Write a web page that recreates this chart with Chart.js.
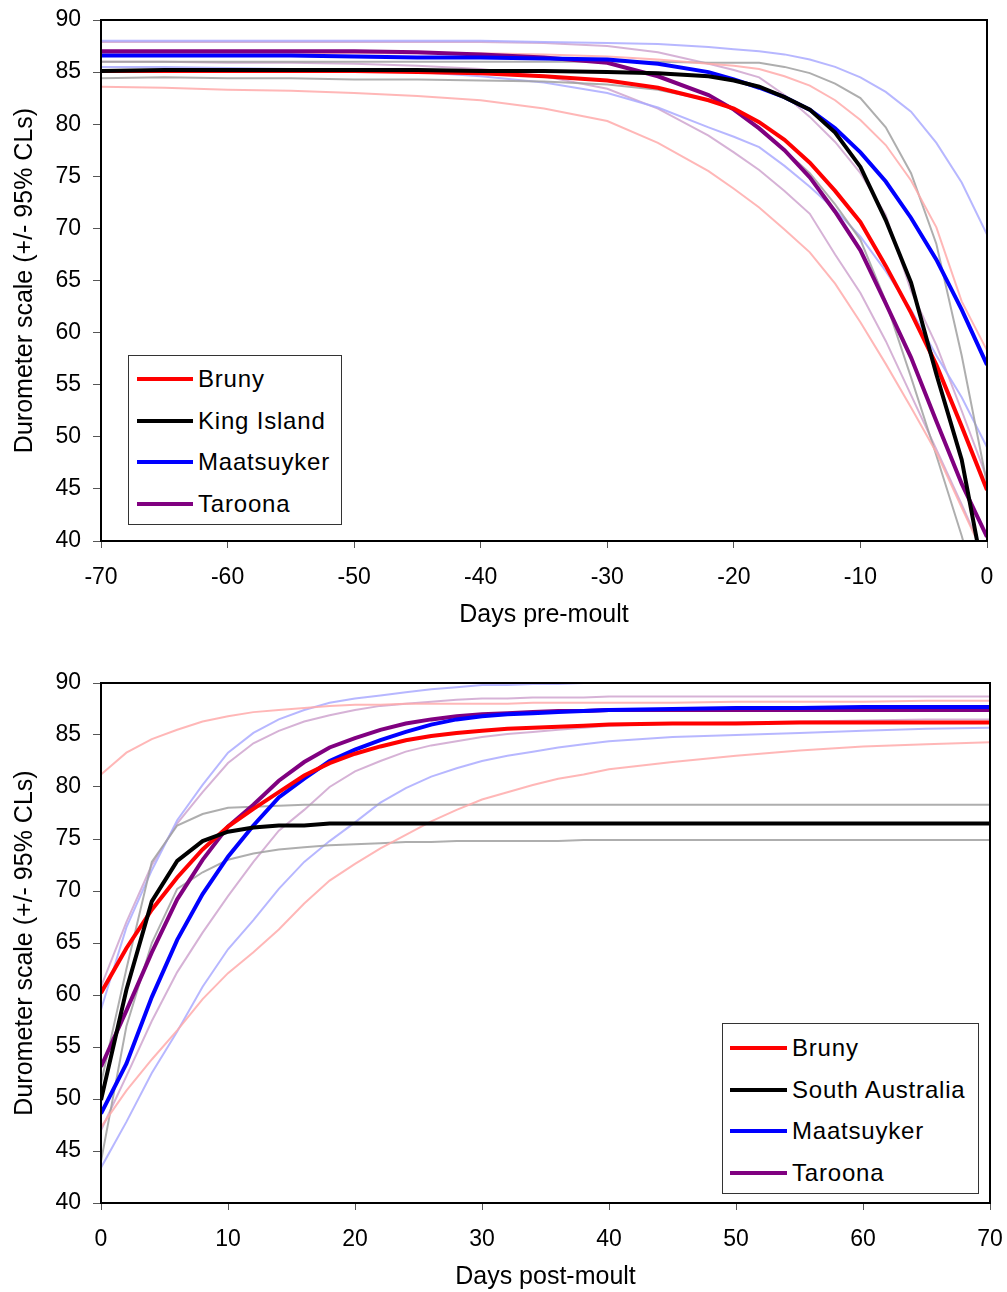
<!DOCTYPE html>
<html lang="en">
<head>
  <meta charset="UTF-8">
  <title>Durometer scale pre- and post-moult</title>
  <script src="https://cdn.jsdelivr.net/npm/chart.js"></script>
  <style>
    body { margin: 0; background: #fff; font-family: "Liberation Sans", Arial, sans-serif; }
    .wrap { position: relative; width: 1007px; height: 1292px; }
    .panel { position: absolute; left: 0; width: 1007px; }
    #preBox { top: 0; height: 630px; }
    #postBox { top: 663px; height: 629px; }
    .legend { position: absolute; border: 1px solid #333; background: #fff; font-size: 24px; letter-spacing: 0.8px; color: #000; box-sizing: border-box; }
    .legend .row { display: flex; align-items: center; height: 41.7px; white-space: nowrap; }
    .legend .swatch { display: inline-block; height: 4px; }
  </style>
</head>
<body>
<div class="wrap">
  <div class="panel" id="preBox">
    <canvas id="preChart" width="1007" height="630"></canvas>
  </div>
  <div class="panel" id="postBox">
    <canvas id="postChart" width="1007" height="629"></canvas>
  </div>
  <div class="legend" id="preLegend" style="left:128px; top:355px; width:214px; height:170px; padding-top:2px;"></div>
  <div class="legend" id="postLegend" style="left:722px; top:1023px; width:257px; height:171px; padding-top:3px;"></div>
</div>

<script>
  // Days pre-moult (top panel)
  const preDays = [-70, -65, -60, -55, -50, -45, -40, -35, -30, -26, -22, -20, -18, -16, -14, -12, -10, -8, -6, -4, -2, 0];

  const preBruny    = [85.1, 85.1, 85.1, 85.1, 85.1, 85.0, 84.9, 84.6, 84.2, 83.5, 82.3, 81.5, 80.2, 78.5, 76.3, 73.6, 70.6, 66.4, 61.9, 56.9, 51.0, 44.9];
  const preKing     = [85.1, 85.2, 85.2, 85.2, 85.2, 85.2, 85.1, 85.1, 85.0, 84.9, 84.6, 84.2, 83.6, 82.6, 81.4, 79.2, 75.9, 70.8, 64.8, 56.0, 47.8, 35.0];
  const preMaat     = [86.6, 86.6, 86.6, 86.6, 86.5, 86.4, 86.4, 86.3, 86.2, 85.8, 85.0, 84.3, 83.5, 82.6, 81.4, 79.6, 77.3, 74.5, 71.0, 67.0, 62.2, 56.9];
  const preTaroona  = [87.0, 87.0, 87.0, 87.0, 87.0, 86.9, 86.7, 86.4, 85.9, 84.6, 82.8, 81.4, 79.6, 77.5, 74.9, 71.6, 67.9, 62.8, 57.6, 51.5, 45.5, 40.4];

  // 95% confidence limits, pre-moult
  const preBrunyHi   = [86.8, 86.8, 86.8, 86.8, 86.8, 86.8, 86.8, 86.7, 86.5, 86.2, 85.8, 85.6, 85.3, 84.6, 83.7, 82.3, 80.4, 78.0, 74.6, 70.1, 63.0, 58.3];
  const preBrunyLo   = [83.6, 83.5, 83.3, 83.2, 83.0, 82.7, 82.3, 81.5, 80.3, 78.2, 75.5, 73.8, 72.0, 69.9, 67.7, 64.7, 61.0, 57.0, 52.8, 48.5, 43.2, 38.0];
  const preKingHi    = [86.0, 86.0, 86.0, 86.0, 86.0, 86.0, 86.0, 86.0, 86.0, 86.0, 85.9, 85.9, 85.9, 85.5, 84.9, 83.9, 82.5, 79.7, 75.3, 68.5, 57.8, 45.5];
  const preKingLo    = [84.4, 84.5, 84.4, 84.4, 84.3, 84.3, 84.2, 84.1, 83.8, 83.3, 82.3, 81.5, 79.5, 77.5, 75.3, 72.3, 68.9, 63.0, 55.7, 48.2, 40.5, 32.0];
  const preMaatHi    = [88.0, 88.0, 88.0, 88.0, 88.0, 88.0, 88.0, 87.9, 87.8, 87.7, 87.4, 87.2, 87.0, 86.7, 86.2, 85.5, 84.5, 83.1, 81.2, 78.2, 74.4, 69.4];
  const preMaatLo    = [85.5, 85.5, 85.4, 85.3, 85.2, 85.0, 84.6, 84.0, 83.0, 81.6, 79.7, 78.8, 77.8, 76.0, 74.0, 71.8, 69.2, 65.9, 62.2, 57.8, 53.8, 49.0];
  const preTaroonaHi = [87.9, 87.9, 87.9, 87.9, 87.9, 87.9, 87.9, 87.8, 87.5, 86.9, 85.8, 85.2, 84.5, 82.8, 80.7, 78.3, 75.3, 71.3, 64.0, 58.8, 52.5, 46.0];
  const preTaroonaLo = [86.0, 86.0, 85.9, 85.9, 85.8, 85.6, 85.3, 84.6, 83.4, 81.5, 78.9, 77.3, 75.6, 73.6, 71.4, 67.5, 63.8, 59.2, 54.0, 48.8, 43.5, 38.0];

  // Days post-moult (bottom panel)
  const postDays = [0, 2, 4, 6, 8, 10, 12, 14, 16, 18, 20, 22, 24, 26, 28, 30, 32, 34, 36, 38, 40, 45, 50, 55, 60, 65, 70];

  const postBruny   = [60.2, 64.5, 68.2, 71.3, 74.0, 76.2, 77.9, 79.5, 81.1, 82.3, 83.2, 83.9, 84.5, 84.9, 85.2, 85.4, 85.6, 85.7, 85.8, 85.9, 86.0, 86.1, 86.1, 86.2, 86.2, 86.2, 86.2];
  const postSA      = [49.9, 60.5, 69.0, 72.9, 74.8, 75.7, 76.1, 76.3, 76.3, 76.5, 76.5, 76.5, 76.5, 76.5, 76.5, 76.5, 76.5, 76.5, 76.5, 76.5, 76.5, 76.5, 76.5, 76.5, 76.5, 76.5, 76.5];
  const postMaat    = [48.6, 53.4, 59.8, 65.3, 69.7, 73.3, 76.3, 79.0, 80.8, 82.5, 83.6, 84.5, 85.3, 86.0, 86.5, 86.8, 87.0, 87.1, 87.2, 87.3, 87.4, 87.5, 87.6, 87.6, 87.7, 87.7, 87.7];
  const postTaroona = [53.1, 58.5, 64.1, 69.2, 73.0, 76.2, 78.3, 80.6, 82.4, 83.8, 84.7, 85.5, 86.1, 86.5, 86.8, 87.0, 87.1, 87.2, 87.3, 87.3, 87.4, 87.4, 87.4, 87.4, 87.4, 87.4, 87.4];

  // 95% confidence limits, post-moult
  const postBrunyHi   = [81.2, 83.3, 84.6, 85.5, 86.3, 86.8, 87.2, 87.4, 87.6, 87.8, 87.9, 87.9, 88.0, 88.0, 88.0, 88.0, 88.0, 88.1, 88.1, 88.1, 88.1, 88.1, 88.2, 88.2, 88.2, 88.3, 88.3];
  const postBrunyLo   = [47.3, 50.8, 53.8, 56.6, 59.6, 62.1, 64.1, 66.3, 68.8, 71.0, 72.6, 74.1, 75.4, 76.7, 77.8, 78.8, 79.5, 80.2, 80.8, 81.2, 81.7, 82.4, 83.0, 83.5, 83.9, 84.1, 84.3];
  const postSAHi      = [51.5, 62.5, 72.8, 76.3, 77.4, 78.0, 78.1, 78.2, 78.3, 78.3, 78.3, 78.3, 78.3, 78.3, 78.3, 78.3, 78.3, 78.3, 78.3, 78.3, 78.3, 78.3, 78.3, 78.3, 78.3, 78.3, 78.3];
  const postSALo      = [44.0, 57.0, 65.0, 70.2, 71.8, 73.0, 73.6, 74.0, 74.2, 74.4, 74.5, 74.6, 74.7, 74.7, 74.8, 74.8, 74.8, 74.8, 74.8, 74.9, 74.9, 74.9, 74.9, 74.9, 74.9, 74.9, 74.9];
  const postMaatHi    = [58.6, 66.5, 72.0, 76.8, 80.2, 83.3, 85.2, 86.5, 87.4, 88.1, 88.5, 88.8, 89.1, 89.4, 89.6, 89.8, 89.8, 89.9, 89.9, 90.0, 90.0, 90.0, 90.0, 90.0, 90.0, 90.0, 90.0];
  const postMaatLo    = [43.4, 47.8, 52.5, 56.5, 60.8, 64.4, 67.2, 70.2, 72.8, 74.8, 76.6, 78.5, 79.9, 81.0, 81.8, 82.5, 83.0, 83.4, 83.8, 84.1, 84.4, 84.8, 85.0, 85.2, 85.4, 85.6, 85.7];
  const postTaroonaHi = [60.8, 67.0, 72.5, 76.5, 79.5, 82.3, 84.2, 85.4, 86.3, 86.9, 87.4, 87.8, 88.0, 88.2, 88.4, 88.5, 88.5, 88.6, 88.6, 88.6, 88.7, 88.7, 88.7, 88.7, 88.7, 88.7, 88.7];
  const postTaroonaLo = [47.0, 52.2, 57.5, 62.2, 66.0, 69.5, 72.8, 75.8, 77.8, 80.0, 81.5, 82.5, 83.4, 84.0, 84.4, 84.8, 85.1, 85.3, 85.5, 85.7, 85.9, 86.1, 86.2, 86.3, 86.4, 86.5, 86.5];

  const FONT = '"Liberation Sans", Arial, sans-serif';
  const RED = '#ff0000', BLACK = '#000000', BLUE = '#0000ff', PURPLE = '#800080';
  const RED_CL = 'rgba(255,170,170,0.85)', BLACK_CL = 'rgba(160,160,160,0.85)';
  const BLUE_CL = 'rgba(170,170,255,0.85)', PURPLE_CL = 'rgba(210,170,210,0.9)';

  function toPoints(days, vals) {
    return days.map((d, i) => ({ x: d, y: vals[i] }));
  }

  function mainLine(label, days, vals, color, legendPos) {
    return { label: label, data: toPoints(days, vals), borderColor: color, backgroundColor: color,
             borderWidth: 4, pointRadius: 0, tension: 0, main: true, legendPos: legendPos };
  }

  function clLine(label, days, vals, color) {
    return { label: label, data: toPoints(days, vals), borderColor: color, backgroundColor: color,
             borderWidth: 2, pointRadius: 0, tension: 0, main: false };
  }

  // draws the box round the plot area
  const framePlugin = {
    id: 'frame',
    afterDatasetsDraw(chart) {
      const { ctx, chartArea: a } = chart;
      ctx.save();
      ctx.strokeStyle = '#000';
      ctx.lineWidth = 2;
      ctx.strokeRect(a.left, a.top, a.right - a.left, a.bottom - a.top);
      ctx.restore();
    }
  };

  function makeChart(canvasId, datasets, xMin, xMax, xTitle, rightPad) {
    return new Chart(document.getElementById(canvasId).getContext('2d'), {
      type: 'line',
      data: { datasets: datasets },
      options: {
        responsive: false,
        animation: false,
        layout: { padding: { top: 20, right: rightPad, left: 0, bottom: 0 } },
        plugins: { legend: { display: false }, tooltip: { enabled: false } },
        scales: {
          x: {
            type: 'linear', min: xMin, max: xMax,
            afterFit: (s) => { s.height = 89; s.paddingLeft = 0; s.paddingRight = 0; },
            ticks: { stepSize: 10, color: '#000', padding: 16, maxRotation: 0, font: { size: 23, family: FONT } },
            grid: { drawOnChartArea: false, tickLength: 7, color: '#555' },
            border: { color: '#000', width: 2 },
            title: { display: true, text: xTitle, color: '#000', font: { size: 25, family: FONT }, padding: { top: 0, bottom: 0 } }
          },
          y: {
            min: 40, max: 90,
            afterFit: (s) => { s.width = 101; s.paddingTop = 0; s.paddingBottom = 0; },
            ticks: { stepSize: 5, color: '#000', padding: 12, font: { size: 23, family: FONT } },
            grid: { drawOnChartArea: false, tickLength: 8, color: '#555' },
            border: { color: '#000', width: 2 },
            title: { display: true, text: 'Durometer scale (+/- 95% CLs)', color: '#000', font: { size: 25, family: FONT }, padding: { top: 10, bottom: 0 } }
          }
        }
      },
      plugins: [framePlugin]
    });
  }

  function buildLegend(divId, chart, padLeft, swatchW, gap) {
    const box = document.getElementById(divId);
    chart.data.datasets.filter(ds => ds.main)
      .sort((a, b) => a.legendPos - b.legendPos)
      .forEach(ds => {
        const row = document.createElement('div');
        row.className = 'row';
        row.innerHTML = `<span class="swatch" style="background:${ds.borderColor}; width:${swatchW}px; margin-left:${padLeft}px; margin-right:${gap}px;"></span><span>${ds.label}</span>`;
        box.appendChild(row);
      });
  }

  // first datasets are drawn on top, so main lines go first
  const preChart = makeChart('preChart', [
    mainLine('King Island', preDays, preKing, BLACK, 1),
    mainLine('Bruny', preDays, preBruny, RED, 0),
    mainLine('Maatsuyker', preDays, preMaat, BLUE, 2),
    mainLine('Taroona', preDays, preTaroona, PURPLE, 3),
    clLine('Bruny upper CL', preDays, preBrunyHi, RED_CL),
    clLine('Bruny lower CL', preDays, preBrunyLo, RED_CL),
    clLine('King Island upper CL', preDays, preKingHi, BLACK_CL),
    clLine('King Island lower CL', preDays, preKingLo, BLACK_CL),
    clLine('Maatsuyker upper CL', preDays, preMaatHi, BLUE_CL),
    clLine('Maatsuyker lower CL', preDays, preMaatLo, BLUE_CL),
    clLine('Taroona upper CL', preDays, preTaroonaHi, PURPLE_CL),
    clLine('Taroona lower CL', preDays, preTaroonaLo, PURPLE_CL)
  ], -70, 0, 'Days pre-moult', 20);

  const postChart = makeChart('postChart', [
    mainLine('South Australia', postDays, postSA, BLACK, 1),
    mainLine('Bruny', postDays, postBruny, RED, 0),
    mainLine('Maatsuyker', postDays, postMaat, BLUE, 2),
    mainLine('Taroona', postDays, postTaroona, PURPLE, 3),
    clLine('Bruny upper CL', postDays, postBrunyHi, RED_CL),
    clLine('Bruny lower CL', postDays, postBrunyLo, RED_CL),
    clLine('South Australia upper CL', postDays, postSAHi, BLACK_CL),
    clLine('South Australia lower CL', postDays, postSALo, BLACK_CL),
    clLine('Maatsuyker upper CL', postDays, postMaatHi, BLUE_CL),
    clLine('Maatsuyker lower CL', postDays, postMaatLo, BLUE_CL),
    clLine('Taroona upper CL', postDays, postTaroonaHi, PURPLE_CL),
    clLine('Taroona lower CL', postDays, postTaroonaLo, PURPLE_CL)
  ], 0, 70, 'Days post-moult', 17);

  buildLegend('preLegend', preChart, 8, 56, 5);
  buildLegend('postLegend', postChart, 7, 57, 5);
</script>
</body>
</html>
